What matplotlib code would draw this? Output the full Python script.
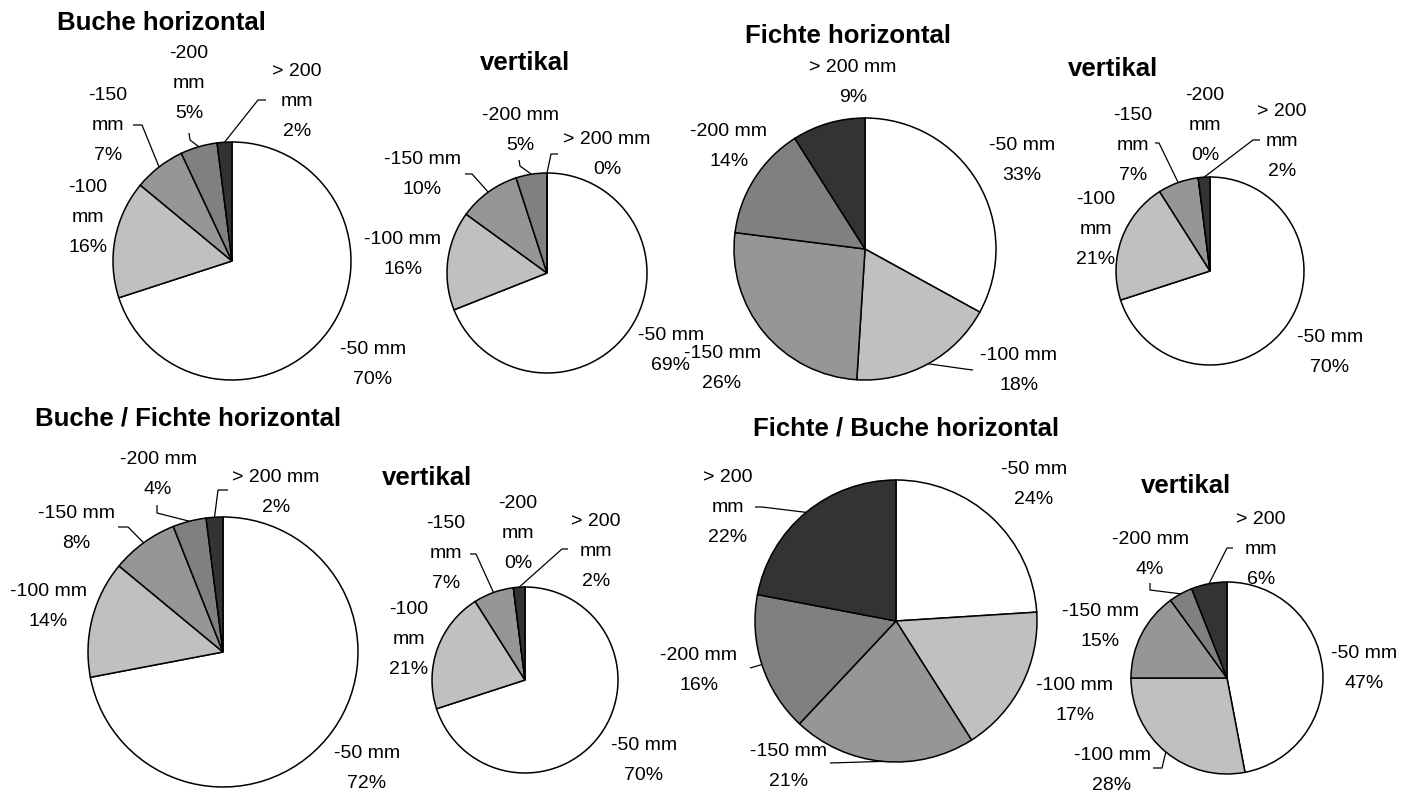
import numpy as np
import matplotlib.pyplot as plt

# === Daten ===
categories = ["-50 mm", "-100 mm", "-150 mm", "-200 mm", "> 200 mm"]
colors = ["#ffffff", "#c0c0c0", "#969696", "#808080", "#333333"]

buche_h = [70, 16, 7, 5, 2]
buche_v = [69, 16, 10, 5, 0]
fichte_h = [33, 18, 26, 14, 9]
fichte_v = [70, 21, 7, 0, 2]
buche_fichte_h = [72, 14, 8, 4, 2]
buche_fichte_v = [70, 21, 7, 0, 2]
fichte_buche_h = [24, 17, 21, 16, 22]
fichte_buche_v = [47, 28, 15, 4, 6]

# === Layout (Pixel, y nach unten) ===
W, H = 1413, 794
F = [False] * 5
T4 = [False, True, True, True, True]

pies = [
    dict(title="Buche horizontal", vals=buche_h, title_xy=(161, 30), center=(232, 261), r=119,
         labels=[(373, 364), (88, 217), (108, 126), (189, 83), (297, 101)], wrap=[False, True, True, True, True],
         leaders={2: [(133, 125), (142, 125)], 3: [(189, 133), (190, 140)], 4: [(266, 100), (258, 100)]}),
    dict(title="vertikal", vals=buche_v, title_xy=(525, 70), center=(547, 273), r=100,
         labels=[(671, 350), (403, 254), (422, 174), (520, 130), (607, 154)], wrap=F,
         leaders={2: [(465, 174), (472, 174)], 3: [(519, 160), (520, 166)], 4: [(558, 154), (551, 154)]}),
    dict(title="Fichte horizontal", vals=fichte_h, title_xy=(848, 43), center=(865, 249), r=131,
         labels=[(1022, 161), (1019, 371), (722, 368), (729, 147), (853, 82)], wrap=F,
         leaders={1: [(973, 370), (965, 369)]}),
    dict(title="vertikal", vals=fichte_v, title_xy=(1113, 76), center=(1210, 271), r=94,
         labels=[(1330, 352), (1096, 230), (1133, 145), (1205, 126), (1282, 141)], wrap=T4,
         leaders={2: [(1155, 143), (1159, 143)], 4: [(1260, 140), (1253, 140)]}),
    dict(title="Buche / Fichte horizontal", vals=buche_fichte_h, title_xy=(188, 425), center=(223, 652), r=135,
         labels=[(367, 769), (48, 607), (76, 529), (158, 475), (276, 492)], wrap=F,
         leaders={2: [(118, 527), (128, 527)], 3: [(157, 505), (157, 513)], 4: [(228, 490), (218, 490)]}),
    dict(title="vertikal", vals=buche_fichte_v, title_xy=(427, 485), center=(525, 680), r=93,
         labels=[(644, 760), (409, 639), (446, 554), (518, 534), (596, 551)], wrap=T4,
         leaders={2: [(470, 554), (476, 554)], 4: [(568, 549), (562, 549)]}),
    dict(title="Fichte / Buche horizontal", vals=fichte_buche_h, title_xy=(906, 435), center=(896, 621), r=141,
         labels=[(1034, 485), (1075, 701), (789, 766), (699, 670), (728, 508)], wrap=[False, False, False, False, True],
         leaders={2: [(830, 763)], 3: [(750, 668)], 4: [(755, 507), (762, 507)]}),
    dict(title="vertikal", vals=fichte_buche_v, title_xy=(1186, 493), center=(1227, 678), r=96,
         labels=[(1364, 669), (1112, 770), (1100, 627), (1150, 555), (1261, 549)], wrap=[False, False, False, False, True],
         leaders={1: [(1153, 768), (1162, 768)], 3: [(1150, 583), (1150, 590)], 4: [(1233, 548), (1227, 548)]}),
]

FONT = "Liberation Sans"

fig = plt.figure(figsize=(W / 100, H / 100), dpi=100)
fig.patch.set_facecolor("white")
ax = fig.add_axes([0, 0, 1, 1])

for p in pies:
    vals = np.array(p["vals"], dtype=float)
    cx, cy = p["center"]
    r = p["r"]
    # y-Achse invertiert: startangle=-90 ist oben, counterclock=True dreht im Uhrzeigersinn
    ax.pie(vals, colors=colors, center=(cx, cy), radius=r, startangle=-90,
           counterclock=True, frame=True,
           wedgeprops=dict(edgecolor="black", linewidth=1.1))

    ax.text(p["title_xy"][0], p["title_xy"][1], p["title"], ha="center", va="baseline",
            fontsize=18.5, fontweight="bold", family=FONT)

    frac = vals / vals.sum()
    mids = np.cumsum(frac) - frac / 2
    for i, (lx, ly) in enumerate(p["labels"]):
        cat = categories[i]
        if p["wrap"][i]:
            cat = "\n".join(cat.rsplit(" ", 1))
        txt = f"{cat}\n{p['vals'][i]}%"
        ax.text(lx, ly, txt, ha="center", va="center", fontsize=14, family=FONT,
                linespacing=2.0, multialignment="center")
        if i in p["leaders"]:
            phi = 2 * np.pi * mids[i]
            ex, ey = cx + r * np.sin(phi), cy - r * np.cos(phi)
            pts = p["leaders"][i] + [(ex, ey)]
            xs, ys = zip(*pts)
            ax.plot(xs, ys, color="black", linewidth=0.9, solid_capstyle="butt")

ax.set_aspect("auto")
ax.set_xlim(0, W)
ax.set_ylim(H, 0)
ax.axis("off")

plt.savefig("out.png", dpi=100, facecolor="white")
